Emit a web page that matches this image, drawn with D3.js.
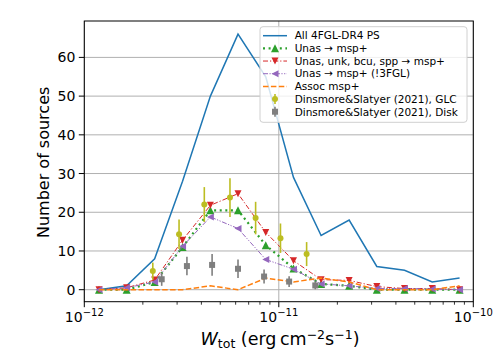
<!DOCTYPE html>
<html>
<head>
<meta charset="utf-8">
<script src="https://cdn.jsdelivr.net/npm/d3@7"></script>
<style>
  body { margin: 0; background: #fff; }
  svg { font-family: "DejaVu Sans", sans-serif; }
</style>
</head>
<body>
<div id="container"></div>
<script>
/* CONSTANTS AND GLOBALS */
const width = 498, height = 356;
const margin = { top: 21, bottom: 54.3, left: 84.3, right: 24.7 };

/* DATA */
const binCenters = [1.19e-12, 1.65e-12, 2.30e-12, 3.20e-12, 4.45e-12, 6.17e-12, 8.57e-12,
  1.19e-11, 1.65e-11, 2.30e-11, 3.19e-11, 4.43e-11, 6.15e-11, 8.5e-11];
const allPS = [0, 1, 8, 28, 50, 66, 55, 29, 14, 18, 6, 5, 2, 3];
const unasMsp = [0, 0, 2, 11, 20.5, 20.5, 11.5, 5.5, 1.5, 1, 0, 0, 0, 0];
const unasUnkMsp = [0, 0.5, 2.5, 12.8, 21.8, 24.8, 14.8, 7.5, 2.6, 2.4, 0.8, 0.3, 0.3, 0];
const unasNo3fgl = [0, 0.5, 2, 11.2, 18.8, 15.8, 7.8, 5.3, 1.5, 1, 0.3, 0.3, 0.2, 0];
const assocMsp = [0, 0, 0, 0, 1, 0, 3, 2, 3, 2, 0, 0, 0, 1];

const glcX = [2.25e-12, 3.07e-12, 4.14e-12, 5.61e-12, 7.6e-12, 1.02e-11, 1.39e-11];
const glcY = [4.8, 14.3, 22, 23.8, 18.5, 13.3, 9.2];
const glcErr = [2.2, 3.8, 4.5, 5, 4.2, 3.8, 3.1];

const diskX = [2.5e-12, 3.37e-12, 4.54e-12, 6.17e-12, 8.4e-12, 1.13e-11, 1.54e-11];
const diskY = [2.7, 6.1, 6.4, 5.4, 3.4, 2.1, 1.1];
const diskErr = [1.7, 2.4, 2.8, 2.4, 1.8, 1.4, 1.0];

const yTicks = [0, 10, 20, 30, 40, 50, 60];
const xMajor = [1e-12, 1e-11, 1e-10];
const xMajorExp = ["\u221212", "\u221211", "\u221210"];

/* SCALES */
const xScale = d3.scaleLog()
  .domain([1e-12, 1e-10])
  .range([margin.left, width - margin.right]);

const yScale = d3.scaleLinear()
  .domain([-3.1, 69.4])
  .range([height - margin.bottom, margin.top]);

const svg = d3.select("#container")
  .append("svg")
  .attr("width", width)
  .attr("height", height);

const x0 = margin.left, x1 = width - margin.right;
const y0 = height - margin.bottom, y1 = margin.top;

// grid
svg.append("g")
  .selectAll("line")
  .data(yTicks)
  .join("line")
  .attr("x1", x0).attr("x2", x1)
  .attr("y1", d => yScale(d)).attr("y2", d => yScale(d))
  .attr("stroke", "#b0b0b0")
  .attr("stroke-width", 1);

svg.append("g")
  .selectAll("line")
  .data(xMajor)
  .join("line")
  .attr("x1", d => xScale(d)).attr("x2", d => xScale(d))
  .attr("y1", y0).attr("y2", y1)
  .attr("stroke", "#b0b0b0")
  .attr("stroke-width", 1);

/* LINES */
const series = [
  { name: "All 4FGL-DR4 PS", values: allPS, color: "#1f77b4", width: 1.5, dash: null, marker: null },
  { name: "Unas \u2192 msp+", values: unasMsp, color: "#2ca02c", width: 2.2, dash: "2,3.6", marker: "up" },
  { name: "Unas, unk, bcu, spp \u2192 msp+", values: unasUnkMsp, color: "#d62728", width: 1, dash: "5,2,1.2,2", marker: "down" },
  { name: "Unas \u2192 msp+ (!3FGL)", values: unasNo3fgl, color: "#9467bd", width: 1, dash: "5,1.5,1.2,1.5,1.2,1.5", marker: "left" },
  { name: "Assoc msp+", values: assocMsp, color: "#ff7f0e", width: 1.5, dash: "5.5,2.4", marker: null }
];

const line = d3.line()
  .x(d => xScale(d[0]))
  .y(d => yScale(d[1]));

function markerPath(type, s) {
  const h = s / 2;
  if (type === "up") return `M0,${-h}L${h},${h}L${-h},${h}Z`;
  if (type === "down") return `M0,${h}L${h},${-h}L${-h},${-h}Z`;
  if (type === "left") return `M${-h},0L${h},${-h}L${h},${h}Z`;
  if (type === "square") return `M${-h},${-h}H${h}V${h}H${-h}Z`;
  return "";
}
const markerSize = { up: 8, down: 7, left: 7 };

series.forEach(s => {
  const pts = binCenters.map((c, i) => [c, s.values[i]]);
  svg.append("path")
    .datum(pts)
    .attr("d", line)
    .attr("fill", "none")
    .attr("stroke", s.color)
    .attr("stroke-width", s.width)
    .attr("stroke-dasharray", s.dash);
  if (s.marker) {
    svg.append("g")
      .selectAll("path")
      .data(pts)
      .join("path")
      .attr("transform", d => `translate(${xScale(d[0])},${yScale(d[1])})`)
      .attr("d", markerPath(s.marker, markerSize[s.marker]))
      .attr("fill", s.color);
  }
});

/* ERROR BARS */
function errorbars(xs, ys, es, color, shape) {
  const g = svg.append("g");
  const data = xs.map((x, i) => ({ x, y: ys[i], e: es[i] }));
  g.selectAll("line")
    .data(data)
    .join("line")
    .attr("x1", d => xScale(d.x)).attr("x2", d => xScale(d.x))
    .attr("y1", d => yScale(d.y - d.e)).attr("y2", d => yScale(d.y + d.e))
    .attr("stroke", color)
    .attr("stroke-width", 1.6);
  if (shape === "circle") {
    g.selectAll("circle")
      .data(data)
      .join("circle")
      .attr("cx", d => xScale(d.x)).attr("cy", d => yScale(d.y))
      .attr("r", 3)
      .attr("fill", color);
  } else {
    g.selectAll("path")
      .data(data)
      .join("path")
      .attr("transform", d => `translate(${xScale(d.x)},${yScale(d.y)})`)
      .attr("d", markerPath("square", 6))
      .attr("fill", color);
  }
}
errorbars(glcX, glcY, glcErr, "#bcbd22", "circle");
errorbars(diskX, diskY, diskErr, "#7f7f7f", "square");

/* AXES FRAME */
svg.append("rect")
  .attr("x", x0).attr("y", y1)
  .attr("width", x1 - x0).attr("height", y0 - y1)
  .attr("fill", "none")
  .attr("stroke", "#000")
  .attr("stroke-width", 1);

// y ticks
const yAxisG = svg.append("g");
yAxisG.selectAll("line")
  .data(yTicks)
  .join("line")
  .attr("x1", x0 - 5.5).attr("x2", x0)
  .attr("y1", d => yScale(d)).attr("y2", d => yScale(d))
  .attr("stroke", "#000");
yAxisG.selectAll("text")
  .data(yTicks)
  .join("text")
  .attr("x", x0 - 9)
  .attr("y", d => yScale(d))
  .attr("dy", "0.36em")
  .attr("text-anchor", "end")
  .attr("font-size", 14)
  .text(d => d);

// x ticks (major + minor)
const minor = [];
[1e-12, 1e-11].forEach(dec => {
  for (let k = 2; k <= 9; k++) minor.push(dec * k);
});
svg.append("g")
  .selectAll("line")
  .data(minor)
  .join("line")
  .attr("x1", d => xScale(d)).attr("x2", d => xScale(d))
  .attr("y1", y0).attr("y2", y0 + 3)
  .attr("stroke", "#000")
  .attr("stroke-width", 0.8);

const xAxisG = svg.append("g");
xAxisG.selectAll("line")
  .data(xMajor)
  .join("line")
  .attr("x1", d => xScale(d)).attr("x2", d => xScale(d))
  .attr("y1", y0).attr("y2", y0 + 5.5)
  .attr("stroke", "#000");
const xl = xAxisG.selectAll("text")
  .data(xMajor)
  .join("text")
  .attr("x", d => xScale(d))
  .attr("y", 321.5)
  .attr("text-anchor", "middle")
  .attr("font-size", 14);
xl.append("tspan").text("10");
xl.append("tspan")
  .attr("dy", -6)
  .attr("font-size", 10)
  .text((d, i) => xMajorExp[i]);

/* AXIS LABELS */
const xlab = svg.append("text")
  .attr("x", 280)
  .attr("y", 345)
  .attr("text-anchor", "middle")
  .attr("font-size", 17.5);
xlab.append("tspan").attr("font-style", "italic").text("W");
xlab.append("tspan").attr("dy", 3).attr("font-size", 12.5).text("tot");
xlab.append("tspan").attr("dy", -3).text(" (erg\u2009cm");
xlab.append("tspan").attr("dy", -6.5).attr("font-size", 12.5).text("\u22122");
xlab.append("tspan").attr("dy", 6.5).text("s");
xlab.append("tspan").attr("dy", -6.5).attr("font-size", 12.5).text("\u22121");
xlab.append("tspan").attr("dy", 6.5).text(")");

svg.append("text")
  .attr("transform", `translate(49,${(y0 + y1) / 2 + 1}) rotate(-90)`)
  .attr("text-anchor", "middle")
  .attr("font-size", 16)
  .text("Number of sources");

/* LEGEND */
const legend = svg.append("g");
legend.append("rect")
  .attr("x", 260).attr("y", 26.7)
  .attr("width", 207).attr("height", 95.6)
  .attr("rx", 3)
  .attr("fill", "#fff")
  .attr("fill-opacity", 0.8)
  .attr("stroke", "#d0d0d0")
  .attr("stroke-width", 1);

const legendItems = series.map(s => ({ ...s, type: "line" })).concat([
  { name: "Dinsmore&Slatyer (2021), GLC", color: "#bcbd22", type: "err", shape: "circle" },
  { name: "Dinsmore&Slatyer (2021), Disk", color: "#7f7f7f", type: "err", shape: "square" }
]);

legendItems.forEach((d, i) => {
  const ly = 35.7 + i * 12.67;
  if (d.type === "line") {
    legend.append("line")
      .attr("x1", 263).attr("x2", 287)
      .attr("y1", ly).attr("y2", ly)
      .attr("stroke", d.color)
      .attr("stroke-width", d.width)
      .attr("stroke-dasharray", d.dash);
    if (d.marker) {
      legend.append("path")
        .attr("transform", `translate(275,${ly})`)
        .attr("d", markerPath(d.marker, markerSize[d.marker]))
        .attr("fill", d.color);
    }
  } else {
    legend.append("line")
      .attr("x1", 275).attr("x2", 275)
      .attr("y1", ly - 5).attr("y2", ly + 5)
      .attr("stroke", d.color)
      .attr("stroke-width", 1.6);
    if (d.shape === "circle") {
      legend.append("circle").attr("cx", 275).attr("cy", ly).attr("r", 3).attr("fill", d.color);
    } else {
      legend.append("path").attr("transform", `translate(275,${ly})`)
        .attr("d", markerPath("square", 6)).attr("fill", d.color);
    }
  }
  legend.append("text")
    .attr("x", 294.7)
    .attr("y", ly)
    .attr("dy", "0.36em")
    .attr("font-size", 10.5)
    .text(d.name);
});
</script>
</body>
</html>
